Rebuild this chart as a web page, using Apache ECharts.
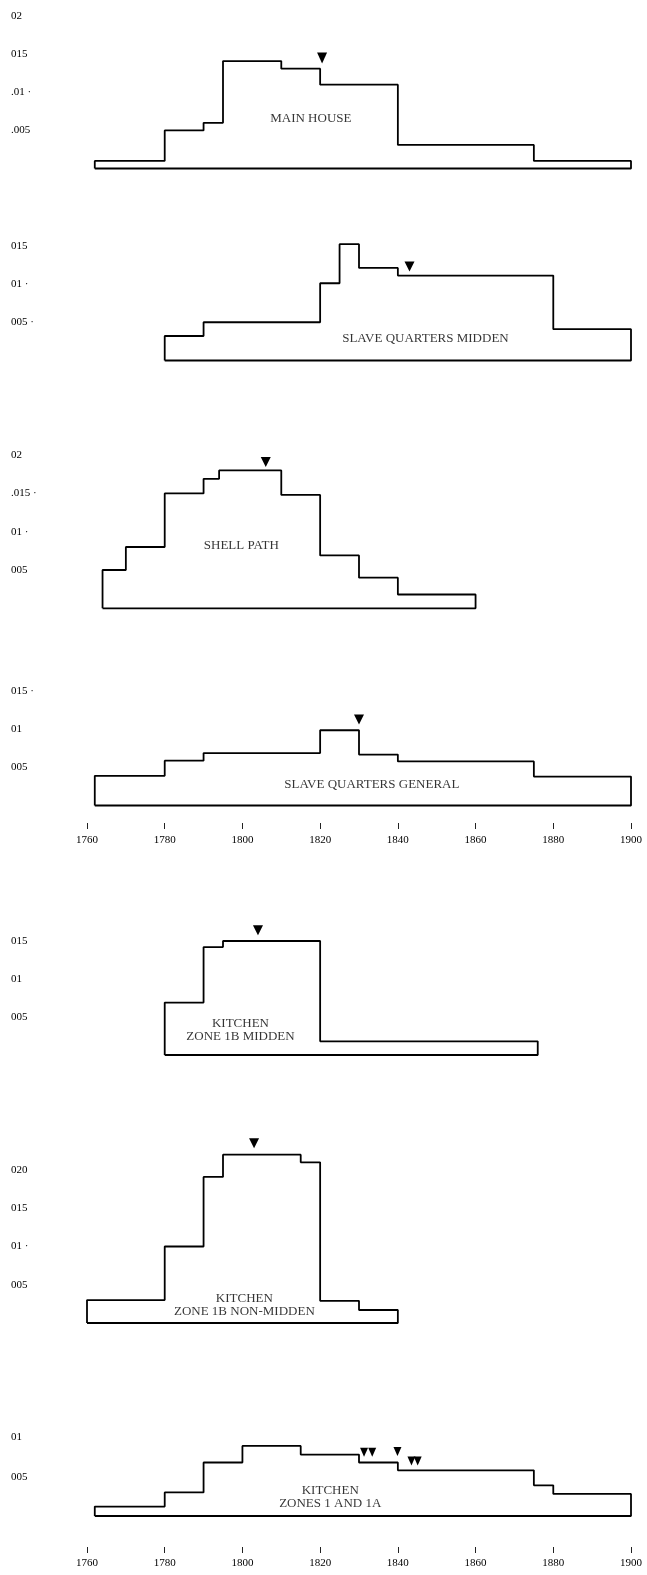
<!DOCTYPE html>
<html>
<head>
<meta charset="utf-8">
<script src="https://cdn.jsdelivr.net/npm/echarts@6/dist/echarts.min.js"></script>
<style>
  html, body { margin: 0; padding: 0; background: #fff; }
  #chart { width: 647px; height: 1575px; }
</style>
</head>
<body>
<div id="chart"></div>
<script>
// bin edges (years) and density per bin, one pair per panel
const mainHouseEdges = [1762, 1780, 1790, 1795, 1810, 1820, 1840, 1875, 1900];
const mainHouseValues = [0.001, 0.005, 0.006, 0.0141, 0.0131, 0.011, 0.0031, 0.001];
const mainHouseMarks = [[1820.5, 0.0145]];

const sqMiddenEdges = [1780, 1790, 1820, 1825, 1830, 1840, 1880, 1900];
const sqMiddenValues = [0.0032, 0.005, 0.0101, 0.0152, 0.0121, 0.0111, 0.0041];
const sqMiddenMarks = [[1843, 0.0123]];

const shellPathEdges = [1764, 1770, 1780, 1790, 1794, 1810, 1820, 1830, 1840, 1860];
const shellPathValues = [0.005, 0.008, 0.015, 0.0169, 0.018, 0.0148, 0.0069, 0.004, 0.0018];
const shellPathMarks = [[1806, 0.0191]];

const sqGeneralEdges = [1762, 1780, 1790, 1820, 1830, 1840, 1875, 1900];
const sqGeneralValues = [0.0039, 0.0059, 0.0069, 0.0099, 0.0067, 0.0058, 0.0038];
const sqGeneralMarks = [[1830, 0.0113]];

const k1bMiddenEdges = [1780, 1790, 1795, 1820, 1876];
const k1bMiddenValues = [0.0069, 0.0142, 0.015, 0.0018];
const k1bMiddenMarks = [[1804, 0.0164]];

const k1bNonEdges = [1760, 1780, 1790, 1795, 1815, 1820, 1830, 1840];
const k1bNonValues = [0.003, 0.01, 0.0191, 0.022, 0.021, 0.0029, 0.0017];
const k1bNonMarks = [[1803, 0.0235]];

const k1Edges = [1762, 1780, 1790, 1800, 1815, 1830, 1840, 1875, 1880, 1900];
const k1Values = [0.0012, 0.003, 0.0068, 0.0089, 0.0078, 0.0068, 0.0058, 0.0039, 0.0028];
const k1Marks = [[1831.3, 0.0081], [1833.4, 0.0081], [1839.9, 0.0082], [1843.5, 0.0070], [1845.1, 0.0070]];

const yearTicks = [1760, 1780, 1800, 1820, 1840, 1860, 1880, 1900];

// panel layout: zero line (px), px per unit, axis max, tick labels
const panels = [
  { edges: mainHouseEdges, values: mainHouseValues, marks: mainHouseMarks,
    zero: 168.5, ppu: 7620, max: 0.02, markSize: [10, 11],
    ticks: { 5: '.005', 10: '.01 ·', 15: '015', 20: '02' },
    name: 'MAIN HOUSE', namePos: [1817.6, 0.0065] },
  { edges: sqMiddenEdges, values: sqMiddenValues, marks: sqMiddenMarks,
    zero: 360.5, ppu: 7650, max: 0.02, markSize: [10, 10],
    ticks: { 5: '005 ·', 10: '01 ·', 15: '015' },
    name: 'SLAVE QUARTERS MIDDEN', namePos: [1847.1, 0.0029] },
  { edges: shellPathEdges, values: shellPathValues, marks: shellPathMarks,
    zero: 608.3, ppu: 7660, max: 0.02, markSize: [10, 10],
    ticks: { 5: '005', 10: '01 ·', 15: '.015 ·', 20: '02' },
    name: 'SHELL PATH', namePos: [1799.7, 0.0082] },
  { edges: sqGeneralEdges, values: sqGeneralValues, marks: sqGeneralMarks,
    zero: 805.5, ppu: 7600, max: 0.015, markSize: [10, 10],
    ticks: { 5: '005', 10: '01', 15: '015 ·' },
    name: 'SLAVE QUARTERS GENERAL', namePos: [1833.3, 0.0027] },
  { edges: k1bMiddenEdges, values: k1bMiddenValues, marks: k1bMiddenMarks,
    zero: 1055, ppu: 7600, max: 0.02, markSize: [10, 10],
    ticks: { 5: '005', 10: '01', 15: '015' },
    name: 'KITCHEN\nZONE 1B MIDDEN', namePos: [1799.5, 0.0033] },
  { edges: k1bNonEdges, values: k1bNonValues, marks: k1bNonMarks,
    zero: 1323, ppu: 7650, max: 0.025, markSize: [10, 10],
    ticks: { 5: '005', 10: '01 ·', 15: '015', 20: '020' },
    name: 'KITCHEN\nZONE 1B NON-MIDDEN', namePos: [1800.5, 0.0023] },
  { edges: k1Edges, values: k1Values, marks: k1Marks,
    zero: 1516, ppu: 7870, max: 0.01, markSize: [8, 9],
    ticks: { 5: '005', 10: '01' },
    name: 'KITCHEN\nZONES 1 AND 1A', namePos: [1822.6, 0.00245] }
];

// year axes drawn in their own thin strips below panels 4 and 7
const yearAxisRows = [{ y: 823, margin: 11.5 }, { y: 1547, margin: 11 }];

// closed step outline from bin edges
function outline(edges, values) {
  const pts = [[edges[0], 0]];
  for (let i = 0; i < values.length; i++) {
    pts.push([edges[i], values[i]]);
    pts.push([edges[i + 1], values[i]]);
  }
  pts.push([edges[edges.length - 1], 0]);
  pts.push([edges[0], 0]);
  return pts;
}

const font = '"Liberation Serif", "DejaVu Serif", serif';
const ink = '#000';

const grid = [], xAxis = [], yAxis = [], series = [];
panels.forEach((p, i) => {
  const h = p.max * p.ppu;
  grid.push({ left: 87, width: 544, top: p.zero - h, height: h });
  xAxis.push({
    gridIndex: i, type: 'value', min: 1760, max: 1900, interval: 20,
    axisLine: { show: false }, axisTick: { show: false },
    axisLabel: { show: false }, splitLine: { show: false }
  });
  yAxis.push({
    gridIndex: i, type: 'value', min: 0, max: p.max, interval: 0.005,
    axisLine: { show: false }, axisTick: { show: false }, splitLine: { show: false },
    axisLabel: { show: true, align: 'left', margin: 76, color: ink,
      fontFamily: font, fontSize: 11,
      formatter: v => p.ticks[Math.round(v * 1000)] || '' }
  });
  series.push({
    type: 'line', xAxisIndex: i, yAxisIndex: i,
    data: outline(p.edges, p.values),
    symbol: 'none', clip: false, animation: false,
    lineStyle: { color: ink, width: 1.8 }
  });
  series.push({
    type: 'scatter', xAxisIndex: i, yAxisIndex: i,
    data: p.marks, symbol: 'triangle', symbolRotate: 180,
    symbolSize: p.markSize, clip: false, animation: false,
    itemStyle: { color: ink, opacity: 1 }
  });
  series.push({
    type: 'scatter', xAxisIndex: i, yAxisIndex: i,
    data: [p.namePos], symbolSize: 0, clip: false, animation: false,
    label: { show: true, position: 'inside', formatter: p.name,
      fontFamily: font, fontSize: 13, lineHeight: 13, color: ink, align: 'center' }
  });
});

yearAxisRows.forEach(r => {
  const gi = grid.length;
  grid.push({ left: 87, width: 544, top: r.y - 2, height: 2 });
  xAxis.push({
    gridIndex: gi, type: 'value', min: 1760, max: 1900, interval: 20,
    axisLine: { show: false },
    axisTick: { show: true, length: 6, lineStyle: { color: '#222', width: 1 } },
    axisLabel: { show: true, margin: r.margin, color: ink, fontFamily: font, fontSize: 11,
      formatter: v => yearTicks.indexOf(v) >= 0 ? String(v) : '' },
    splitLine: { show: false }
  });
  yAxis.push({ gridIndex: gi, type: 'value', min: 0, max: 1, show: false });
});

const myChart = echarts.init(document.getElementById('chart'), null, { renderer: 'canvas' });
myChart.setOption({
  animation: false,
  backgroundColor: '#fff',
  grid: grid,
  xAxis: xAxis,
  yAxis: yAxis,
  series: series
});
</script>
</body>
</html>
